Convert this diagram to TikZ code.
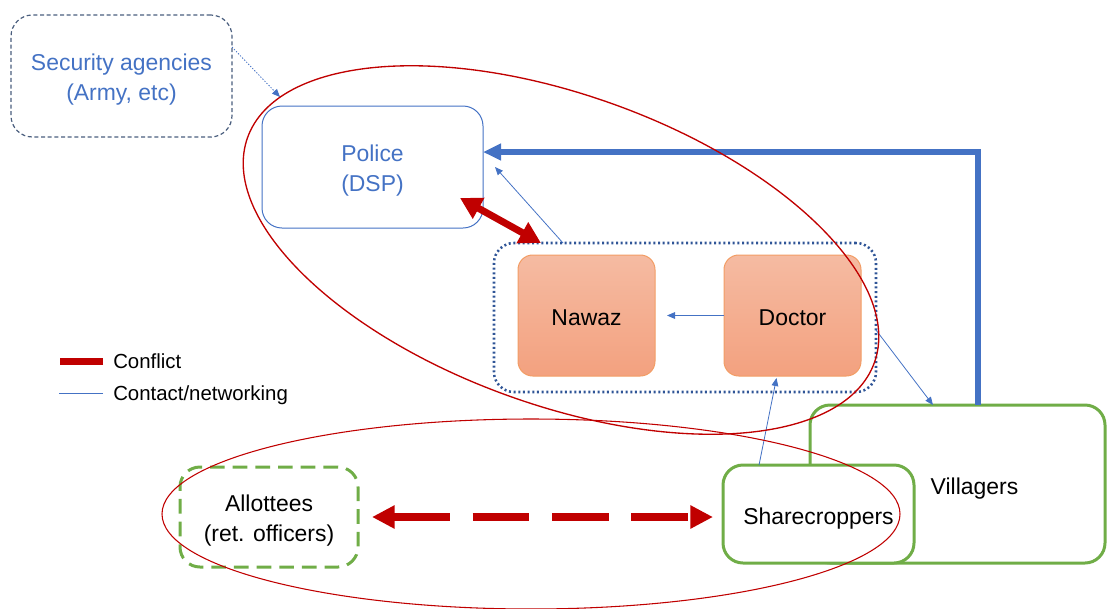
\documentclass[tikz,border=0pt]{standalone}
\usepackage{fontspec}
\setmainfont{Liberation Sans}
\usepackage{xcolor}
\usepackage{tikz}
\usetikzlibrary{arrows.meta, positioning, calc}
\definecolor{pptblue}{HTML}{4472C4}
\definecolor{pptred}{HTML}{C00000}
\definecolor{pptgreen}{HTML}{70AD47}
\definecolor{pptorange}{HTML}{ED7D31}
\definecolor{pptnavy}{HTML}{2F5597}
\definecolor{pptslate}{HTML}{4A5E7E}
\definecolor{peachtop}{HTML}{F5BBA2}
\definecolor{peachbot}{HTML}{F3A17F}
\newcommand{\boxfont}{\fontsize{17.2}{22.5}\selectfont}
\newcommand{\keyfont}{\fontsize{15.3}{18}\selectfont}
\tikzset{
  boxtext/.style={inner sep=0pt, outer sep=0pt, text height=15pt, text depth=0pt, font=\boxfont},
  twoline/.style={text height=36pt, text depth=0pt},
  secbox/.style={boxtext, twoline, draw=pptslate, line width=0.9pt, dash pattern=on 3pt off 2pt, rounded corners=16pt, align=center, text=pptblue},
  polbox/.style={boxtext, twoline, draw=pptblue, line width=0.75pt, rounded corners=15pt, align=center, text=pptblue},
  grpbox/.style={draw=pptnavy, line width=1.9pt, dash pattern=on 1.5pt off 2pt, rounded corners=15pt, inner sep=0pt, outer sep=0pt},
  orbox/.style={boxtext, draw=pptorange!75, line width=0.75pt, top color=peachtop, bottom color=peachbot, rounded corners=11pt, minimum width=102.75pt, minimum height=90.75pt},
  grbox/.style={boxtext, draw=pptgreen, line width=2.25pt, rounded corners=15pt, align=center},
  tmain/.style={-{Triangle[length=13.5pt, width=12pt]}, line width=4.2pt, pptblue},
  tlink/.style={-{Triangle[length=6pt, width=5pt]}, line width=0.6pt, pptblue},
  tfight/.style={{Triangle[length=16pt, width=17pt]}-{Triangle[length=16pt, width=17pt]}, line width=5.25pt, pptred},
  tfightd/.style={{Triangle[length=17pt, width=16.5pt]}-{Triangle[length=17pt, width=16.5pt]}, line width=6pt, pptred, dash pattern=on 42.5pt off 17pt},
  keytext/.style={anchor=west, inner sep=0pt, text height=11pt, text depth=0pt, font=\keyfont},
  ring/.style={draw=pptred, line width=1pt},
}

\begin{document}
\begin{tikzpicture}[x=0.75pt, y=-0.75pt]
    \useasboundingbox (0,0) rectangle (1107,608);
    % actors
    \node[secbox, minimum width=165.75pt, minimum height=91.5pt] (sec) at (121.5,76) {Security agencies\\(Army, etc)};
    \node[polbox, minimum width=165.75pt, minimum height=91.5pt] (police) at (372.5,167) {Police\\(DSP)};
    \node[grpbox, minimum width=286.5pt, minimum height=111.75pt] (group) at (685,317.5) {};
    \node[orbox] (nawaz) at (586.5,315.5) {Nawaz};
    \node[orbox, right=51.75pt of nawaz] (doctor) {Doctor};
    \node[grbox, fill=white, minimum width=221.25pt, minimum height=118.5pt] (villagers) at (957.5,484) {\hspace*{25.5pt}Villagers};
    \node[grbox, fill=white, minimum width=143.25pt, minimum height=73.5pt] (share) at (818.5,514) {Sharecroppers};
    \node[grbox, twoline, dash pattern=on 11pt off 6pt, minimum width=133.5pt, minimum height=75pt] (allot) at (269,517) {Allottees\\(ret. officers)};
    % ties
    \draw[tmain] ([xshift=15.4pt]villagers.north) |- ([yshift=11.25pt]police.east);
    \draw[tfight] ([xshift=-17.25pt,yshift=22.5pt]police.south east) -- ([xshift=35.25pt]group.north west);
    \draw[tlink] ([xshift=51.75pt]group.north west) -- ([xshift=9pt]police.east);
    \draw[tlink] (doctor.west) -- ([xshift=9pt]nawaz.east);
    \draw[tlink] ([yshift=-9.4pt]group.east) -- ([xshift=-18.4pt]villagers.north);
    \draw[tlink] ([xshift=-44.6pt]share.north) -- ([xshift=-12pt,yshift=-1.5pt]doctor.south);
    \draw[tlink, dash pattern=on 1pt off 1.2pt] ([yshift=21.75pt]sec.east) -- ([xshift=13.5pt,yshift=6.75pt]police.north west);
    \draw[tfightd] ([xshift=10.5pt]allot.east) -- ([xshift=-7.5pt]allot.east -| share.west);
    % legend
    \node[keytext] (keyconf) at (113,361) {Conflict};
    \node[keytext] (keylink) at (113,393) {Contact/networking};
    \draw[pptred, line width=5.25pt] ([xshift=-7.5pt]keyconf.west) -- ++(-32.25pt,0);
    \draw[pptblue, line width=0.6pt] ([xshift=-7.5pt]keylink.west) -- ++(-33pt,0);
    % groupings
    \draw[ring, rotate around={-19.75:(561,250)}] (561,250) ellipse [x radius=333, y radius=155];
    \draw[ring, line width=0.8pt] (531,514) ellipse [x radius=369, y radius=95];
\end{tikzpicture}
\end{document}
